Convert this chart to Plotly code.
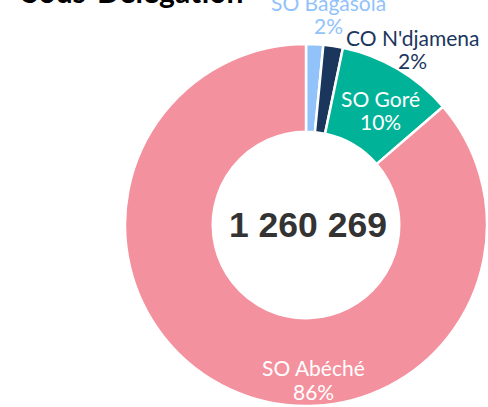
import plotly.graph_objects as go

labels = ["SO Bagasola", "CO N'djamena", "SO Goré", "SO Abéché"]
values = [19269, 22000, 131000, 1088000]
colors = ["#91C3FA", "#1B365D", "#00B398", "#F4919E"]
label_colors = ["#91C3FA", "#1B365D", "#FFFFFF", "#FFFFFF"]
# label centre (x, y of first line) in pixels
label_pos_px = [(328, 2), (412, 37.5), (380.5, 98), (313, 367.5)]
line_gap = 23.5
title_text = "Sous-Délégation"

W, H = 488, 407
total = sum(values)

fig = go.Figure(go.Pie(
    labels=labels, values=values, hole=0.515, sort=False,
    direction="clockwise", rotation=0,
    marker=dict(colors=colors, line=dict(color="white", width=2.5)),
    textinfo="none", hoverinfo="label+percent+value",
    domain=dict(x=[125 / W, 487 / W], y=[1 - 406 / H, 1 - 44 / H]),
    showlegend=False,
))

annotations = []
for lab, v, c, (px, py) in zip(labels, values, label_colors, label_pos_px):
    pct = round(100 * v / total)
    for i, t in enumerate([lab, f"{pct}%"]):
        annotations.append(dict(
            text=t, x=px / W, y=1 - (py + i * line_gap) / H, xref="paper", yref="paper",
            showarrow=False, xanchor="center", yanchor="middle",
            font=dict(family="Lato", size=21, color=c)))

total_str = f"{total:,}".replace(",", " ")
annotations.append(dict(
    text=f"<b>{total_str}</b>", x=308 / W, y=1 - 225 / H, xref="paper", yref="paper",
    showarrow=False, xanchor="center", yanchor="middle",
    font=dict(family="Liberation Sans, Arial", size=35.5, color="#333333")))

annotations.append(dict(
    text=f"<b>{title_text}</b>", x=20 / W, y=1 - (-9) / H, xref="paper", yref="paper",
    showarrow=False, xanchor="left", yanchor="middle",
    font=dict(family="Lato", size=30, color="#000000")))

fig.update_layout(
    width=W, height=H, margin=dict(l=0, r=0, t=0, b=0),
    paper_bgcolor="white", plot_bgcolor="white",
    annotations=annotations,
)

fig.write_html("out.html", config={"displayModeBar": False},
               post_script="document.body.style.margin='0';")
